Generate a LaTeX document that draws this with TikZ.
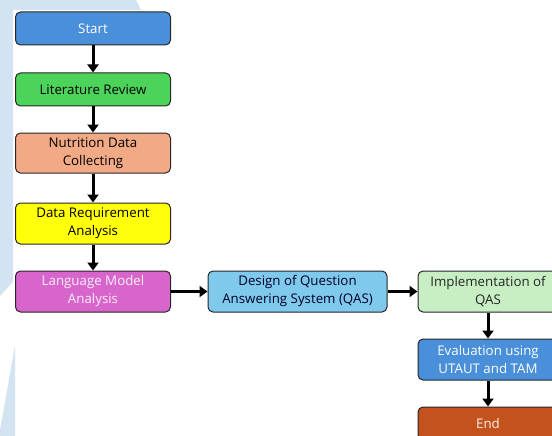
\documentclass[tikz,border=0pt]{standalone}
\usepackage{fontspec}
\setmainfont{Open Sans}
\usepackage{tikz}
\usetikzlibrary{arrows.meta}

\definecolor{wmblue}{HTML}{D3E3F2}
\definecolor{startblue}{HTML}{4A8FD9}
\definecolor{litgreen}{HTML}{4CD35A}
\definecolor{nutsalmon}{HTML}{F2A985}
\definecolor{dreqyellow}{HTML}{FFFF0A}
\definecolor{langorchid}{HTML}{D865CB}
\definecolor{designblue}{HTML}{7FC9EC}
\definecolor{implgreen}{HTML}{C8EFC4}
\definecolor{endbrown}{HTML}{C4521C}

\tikzset{
  stepbox/.style={draw=black!85, line width=1pt, rounded corners=5pt,
    align=center, inner sep=0pt, font=\fontsize{13.3}{18}\selectfont},
  leftbox/.style={stepbox, minimum width=155pt},
  rightbox/.style={stepbox, minimum width=140pt},
  flow/.style={line width=3pt, -{Triangle[length=8pt,width=11pt]}}
}

\begin{document}
\begin{tikzpicture}[x=1pt,y=-1pt]
     \clip (0,0) rectangle (552,436);
     % watermark in the background
     \fill [wmblue] (0,0)--(136,0)--(141,10)--(13,10)--(13,282)--(0,296)--cycle;
     \fill [wmblue] (15,346)--(15,436)--(0,436)--(0,430)--cycle;

     % left column
    \node [leftbox,fill=startblue,text=white,minimum height=33pt] (start) at (93,28.5) {Start};
    \node [leftbox,fill=litgreen,minimum height=33pt] (lit) at (93,89.5) {Literature Review};
    \node [leftbox,fill=nutsalmon,minimum height=40pt] (nut) at (93,153) {Nutrition Data\\Collecting};
    \node [leftbox,fill=dreqyellow,minimum height=41pt] (dreq) at (93,223.5) {Data Requirement\\Analysis};
    \node [leftbox,fill=langorchid,text=white!90!langorchid,minimum height=41pt] (lang) at (93,291.5) {Language Model\\Analysis};

     % middle and right column
    \node [stepbox,fill=designblue,text=black!85!blue,minimum width=179pt,minimum height=41pt] (design) at (297.5,291.5) {Design of Question\\Answering System (QAS)};
    \node [rightbox,fill=implgreen,text=black!85,minimum height=41pt] (impl) at (488,291.5) {Implementation of\\QAS};
    \node [rightbox,fill=startblue,text=white,minimum height=41pt] (eval) at (488,359.5) {Evaluation using\\UTAUT and TAM};
    \node [rightbox,fill=endbrown,text=white!92!endbrown,minimum height=33pt] (end) at (488,423.5) {End};

     \draw [flow] (start)--(lit);
     \draw [flow] (lit)--(nut);
     \draw [flow] (nut)--(dreq);
     \draw [flow] (dreq)--(lang);
     \draw [flow] (lang)--(design);
     \draw [flow] (design)--(impl);
     \draw [flow] (impl)--(eval);
     \draw [flow] (eval)--(end);
    \end{tikzpicture}
\end{document}
